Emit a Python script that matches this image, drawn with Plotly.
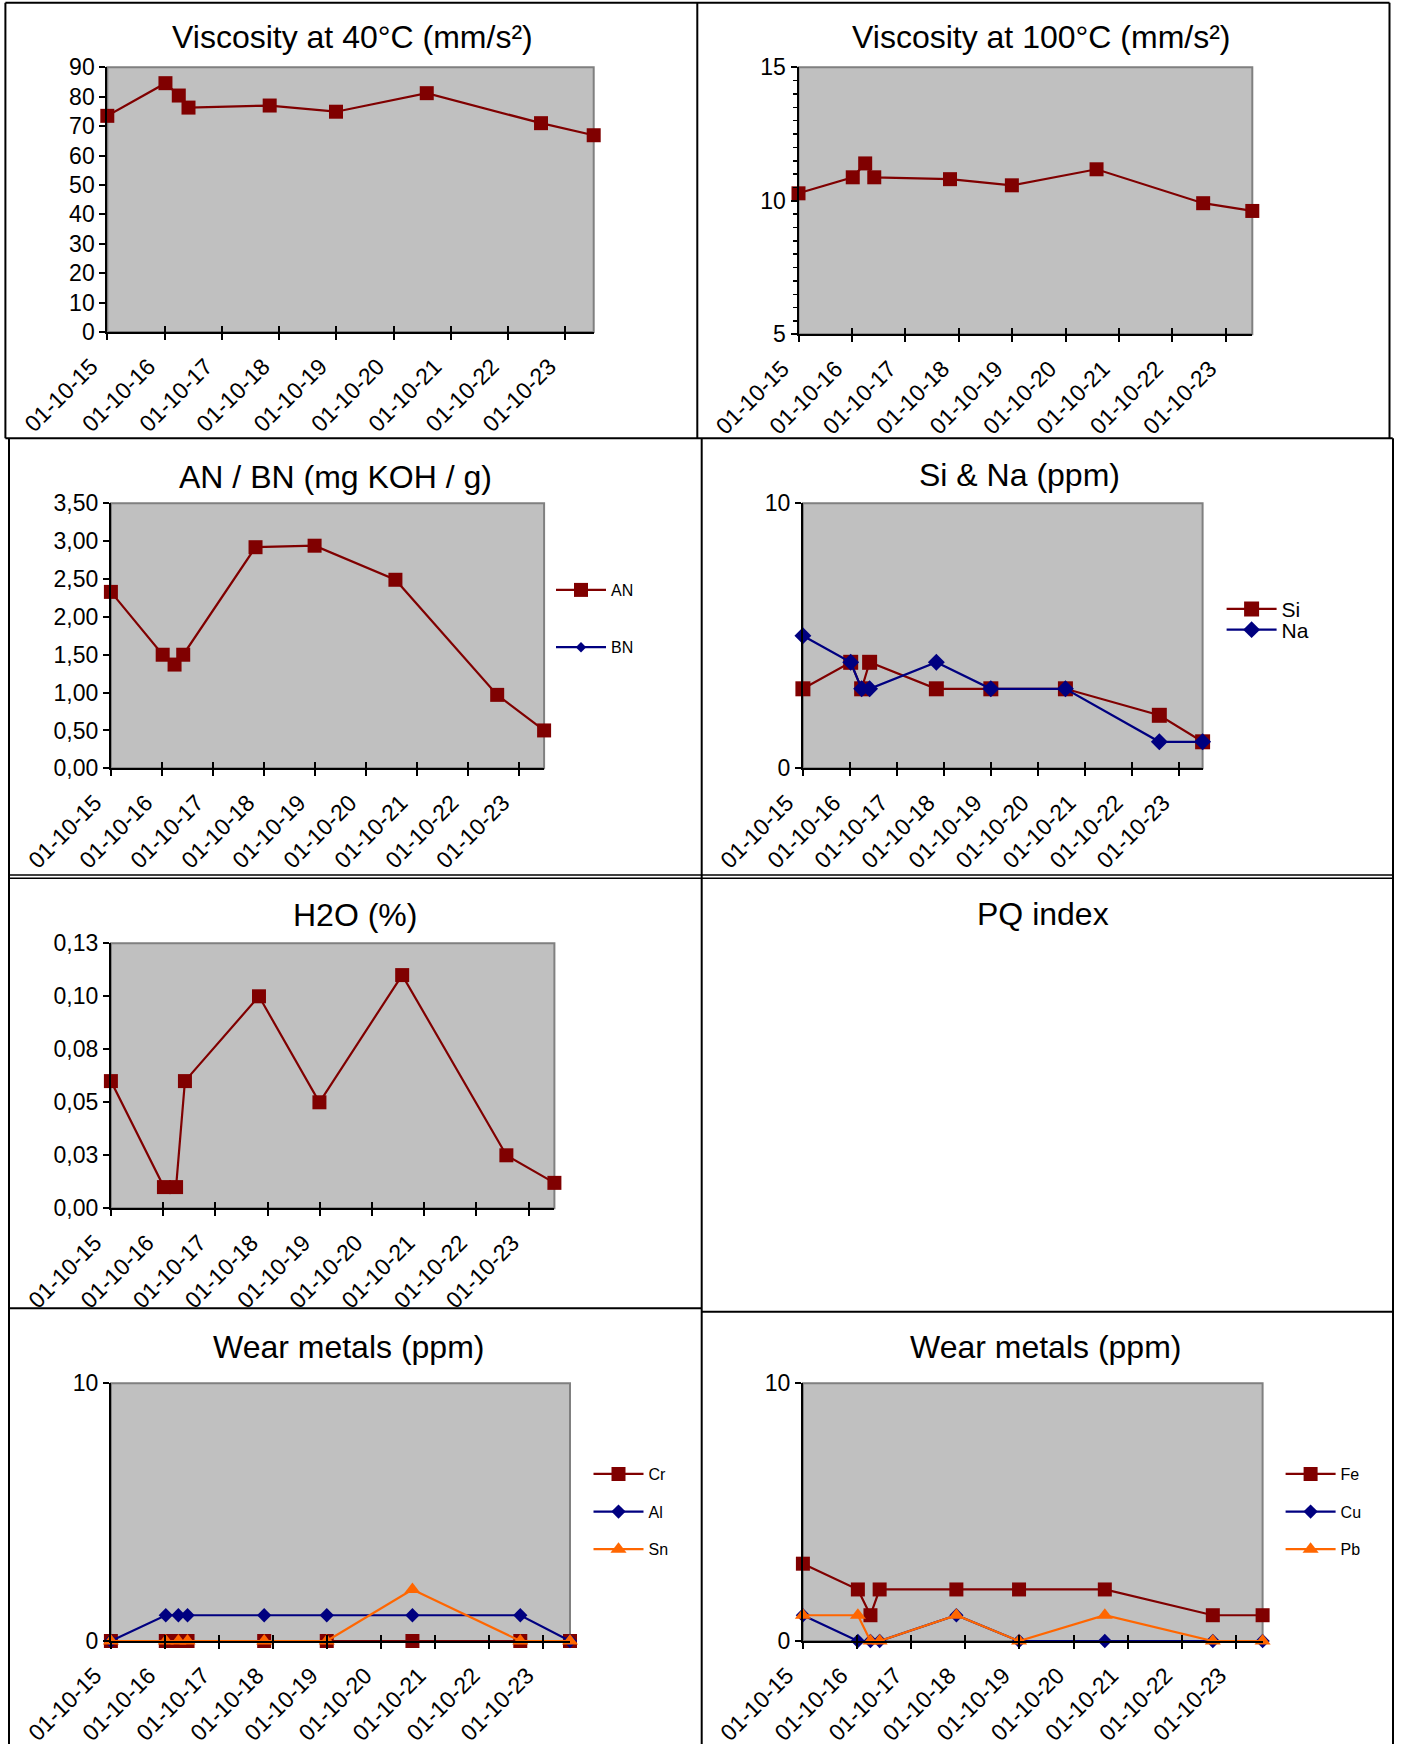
import plotly.graph_objects as go

# ---------------- data ----------------
dates = ["2015-10-01", "2016-10-06", "2016-12-30", "2017-03-02", "2018-08-02",
         "2019-09-29", "2021-04-30", "2023-04-29", "2024-03-30"]

visc40 = [73.5, 84.6, 80.4, 76.3, 77.0, 74.9, 81.2, 71.0, 66.9]
visc100 = [10.28, 10.88, 11.40, 10.88, 10.81, 10.58, 11.18, 9.91, 9.62]
an_vals = [2.33, 1.50, 1.37, 1.50, 2.92, 2.94, 2.49, 0.97, 0.50]
bn_vals = [None] * 9
si_vals = [3, 4, 3, 4, 3, 3, 3, 2, 1]
na_vals = [5, 4, 3, 3, 4, 3, 3, 1, 1]
h2o_vals = [0.06, 0.01, 0.01, 0.06, 0.10, 0.05, 0.11, 0.025, 0.012]
cr_vals = [0, 0, 0, 0, 0, 0, 0, 0, 0]
al_vals = [0, 1, 1, 1, 1, 1, 1, 1, 0]
sn_vals = [0, 0, 0, 0, 0, 0, 2, 0, 0]
fe_vals = [3, 2, 1, 2, 2, 2, 2, 1, 1]
cu_vals = [1, 0, 0, 0, 1, 0, 0, 0, 0]
pb_vals = [1, 1, 0, 0, 1, 0, 1, 0, 0]

h2o_tickvals = [0, 0.025, 0.05, 0.075, 0.10, 0.125]
h2o_ticktext = ["0,00", "0,03", "0,05", "0,08", "0,10", "0,13"]

titles = ["Viscosity at 40°C (mm/s²)", "Viscosity at 100°C (mm/s²)",
          "AN / BN (mg KOH / g)", "Si & Na (ppm)", "H2O (%)", "PQ index",
          "Wear metals (ppm)", "Wear metals (ppm)"]

# ---------------- layout helpers ----------------
W, H = 1402, 1744
FONT = "Liberation Sans, Arial, sans-serif"
RED, BLUE, ORANGE = "#800000", "#000080", "#FF6600"
TICKFS = 23


def fx(v):
    return v / W


def fy(v):
    return 1 - v / H


def sid(k):
    return "" if k == 1 else str(k)


# plot-area boxes in pixels: (x0, x1, y_top, y_bottom)
boxes = {
    1: (107.3, 593.7, 67.3, 332.0),
    2: (798.5, 1252.3, 67.3, 334.3),
    3: (110.9, 544.1, 503.3, 768.3),
    4: (802.9, 1202.6, 503.3, 768.3),
    5: (110.9, 554.4, 943.3, 1208.3),
    6: (110.9, 570.0, 1383.3, 1641.0),
    7: (802.9, 1262.6, 1383.3, 1641.0),
}

fig = go.Figure()


def add_series(k, name, vals, color, symbol, msize, legend=None):
    fig.add_trace(go.Scatter(
        x=dates, y=vals, name=name, mode="lines+markers",
        xaxis=f"x{sid(k)}", yaxis=f"y{sid(k)}",
        line=dict(color=color, width=2.2),
        marker=dict(color=color, symbol=symbol, size=msize, line=dict(width=0)),
        cliponaxis=False,
        showlegend=legend is not None,
        legend=legend if legend else "legend",
        hoverinfo="skip",
    ))


add_series(1, "Visc40", visc40, RED, "square", 14)
add_series(2, "Visc100", visc100, RED, "square", 14)
add_series(3, "AN", an_vals, RED, "square", 14, "legend")
add_series(3, "BN", bn_vals, BLUE, "diamond", 8, "legend2")
add_series(4, "Si", si_vals, RED, "square", 15, "legend3")
add_series(4, "Na", na_vals, BLUE, "diamond", 13, "legend4")
add_series(5, "H2O", h2o_vals, RED, "square", 14)
add_series(6, "Cr", cr_vals, RED, "square", 14, "legend5")
add_series(6, "Al", al_vals, BLUE, "diamond", 11, "legend6")
add_series(6, "Sn", sn_vals, ORANGE, "triangle-up", 14, "legend7")
add_series(7, "Fe", fe_vals, RED, "square", 14, "legend8")
add_series(7, "Cu", cu_vals, BLUE, "diamond", 11, "legend9")
add_series(7, "Pb", pb_vals, ORANGE, "triangle-up", 14, "legend10")

# empty traces so overlay axes (upper half of the crossing ticks) are drawn
for k in boxes:
    fig.add_trace(go.Scatter(x=[], y=[], xaxis=f"x{k + 7}", yaxis=f"y{sid(k)}",
                             showlegend=False, hoverinfo="skip"))

yconf = {
    1: dict(range=[0, 90], dtick=10, tick0=0),
    2: dict(range=[5, 15], dtick=5, tick0=5,
            minor=dict(dtick=0.5, tick0=5, ticks="outside", ticklen=4,
                       tickwidth=1.5, tickcolor="black", showgrid=False)),
    3: dict(range=[0, 3.5], dtick=0.5, tick0=0, tickformat=".2f"),
    4: dict(range=[0, 10], dtick=10, tick0=0),
    5: dict(range=[0, 0.125], tickvals=h2o_tickvals, ticktext=h2o_ticktext),
    6: dict(range=[0, 10], dtick=10, tick0=0),
    7: dict(range=[0, 10], dtick=10, tick0=0),
}

layout = dict(
    width=W, height=H,
    margin=dict(l=0, r=0, t=0, b=0, pad=0, autoexpand=False),
    paper_bgcolor="white", plot_bgcolor="#C0C0C0",
    separators=", ", font=dict(family=FONT, color="black"),
    hovermode=False,
)

for k, (x0, x1, yt, yb) in boxes.items():
    xd = [fx(x0), fx(x1)]
    yd = [fy(yb), fy(yt)]
    common_x = dict(type="date", range=[dates[0], dates[-1]], tick0=dates[0],
                    dtick="M12", showgrid=False, zeroline=False, automargin=False,
                    tickwidth=2, tickcolor="black", ticklen=6)
    layout[f"xaxis{sid(k)}"] = dict(
        domain=xd, anchor=f"y{sid(k)}", tickformat="%d-%m-%y", tickangle=-45,
        ticks="outside", showline=True, linecolor="black", linewidth=2,
        ticklabelshift=-16, ticklabelstandoff=4,
        tickfont=dict(size=TICKFS, family=FONT, color="black"), **common_x)
    layout[f"xaxis{k + 7}"] = dict(
        overlaying=f"x{sid(k)}", anchor=f"y{sid(k)}", side="bottom", ticks="inside",
        showticklabels=False, showline=False, **common_x)
    layout[f"yaxis{sid(k)}"] = dict(
        domain=yd, anchor=f"x{sid(k)}", ticks="outside", ticklen=6, tickwidth=2,
        tickcolor="black", showline=True, linecolor="black", linewidth=2,
        showgrid=False, zeroline=False, automargin=False,
        tickfont=dict(size=TICKFS, family=FONT, color="black"), **yconf[k])

# legends: (name, symbol-start x px, center y px, font size)
legend_pos = [
    ("legend", 558, 590, 16), ("legend2", 558, 647.3, 16),
    ("legend3", 1228.6, 609.3, 21), ("legend4", 1228.6, 630, 21),
    ("legend5", 595.5, 1474, 16), ("legend6", 595.5, 1511.7, 16),
    ("legend7", 595.5, 1549.3, 16),
    ("legend8", 1287.6, 1474, 16), ("legend9", 1287.6, 1511.7, 16),
    ("legend10", 1287.6, 1549.3, 16),
]
for name, lx, ly, fs in legend_pos:
    layout[name] = dict(x=fx(lx - 7), y=fy(ly), xanchor="left", yanchor="middle",
                        bgcolor="rgba(0,0,0,0)", borderwidth=0,
                        font=dict(size=fs, family=FONT, color="black"),
                        itemwidth=50, tracegroupgap=0)

# titles
title_pos = [(352, 36.7), (1041.7, 36.7), (335.3, 476.7), (1019.3, 475),
             (355.4, 915), (1043.4, 914), (348.7, 1346.7), (1045.3, 1346.7)]
annotations = []
for t, (tx, ty) in zip(titles, title_pos):
    annotations.append(dict(text=t, x=fx(tx), y=fy(ty), xref="paper", yref="paper",
                            xanchor="center", yanchor="middle", showarrow=False,
                            font=dict(size=32, family=FONT, color="black")))
layout["annotations"] = annotations

# panel frames and plot-area outlines
shapes = []


def hline(y, xa, xb, w=2):
    shapes.append(dict(type="line", xref="paper", yref="paper", x0=fx(xa), x1=fx(xb),
                       y0=fy(y), y1=fy(y), line=dict(color="black", width=w)))


def vline(x, ya, yb, w=2):
    shapes.append(dict(type="line", xref="paper", yref="paper", x0=fx(x), x1=fx(x),
                       y0=fy(ya), y1=fy(yb), line=dict(color="black", width=w)))


hline(2.7, 5.4, 1389.5)
vline(5.4, 2.7, 438.3)
vline(697.3, 2.7, 438.3)
vline(1389.5, 2.7, 438.3)
hline(438.3, 5.4, 1392.7)
vline(9, 438.3, 1744)
vline(701.7, 438.3, 1744)
vline(1393, 438.3, 1744)
hline(875, 9, 1393, 1.5)
hline(878.3, 9, 1393, 1.5)
hline(1308.3, 9, 702)
hline(1311.7, 702, 1393)

for k in boxes:
    shapes.append(dict(type="rect", xref=f"x{sid(k)} domain", yref=f"y{sid(k)} domain",
                       x0=0, x1=1, y0=0, y1=1, layer="below",
                       line=dict(color="#808080", width=2)))
layout["shapes"] = shapes

fig.update_layout(**layout)
fig.write_html("out.html",
               config={"displayModeBar": False, "staticPlot": True},
               post_script="document.body.style.margin='0px';"
                           "document.body.style.padding='0px';")
